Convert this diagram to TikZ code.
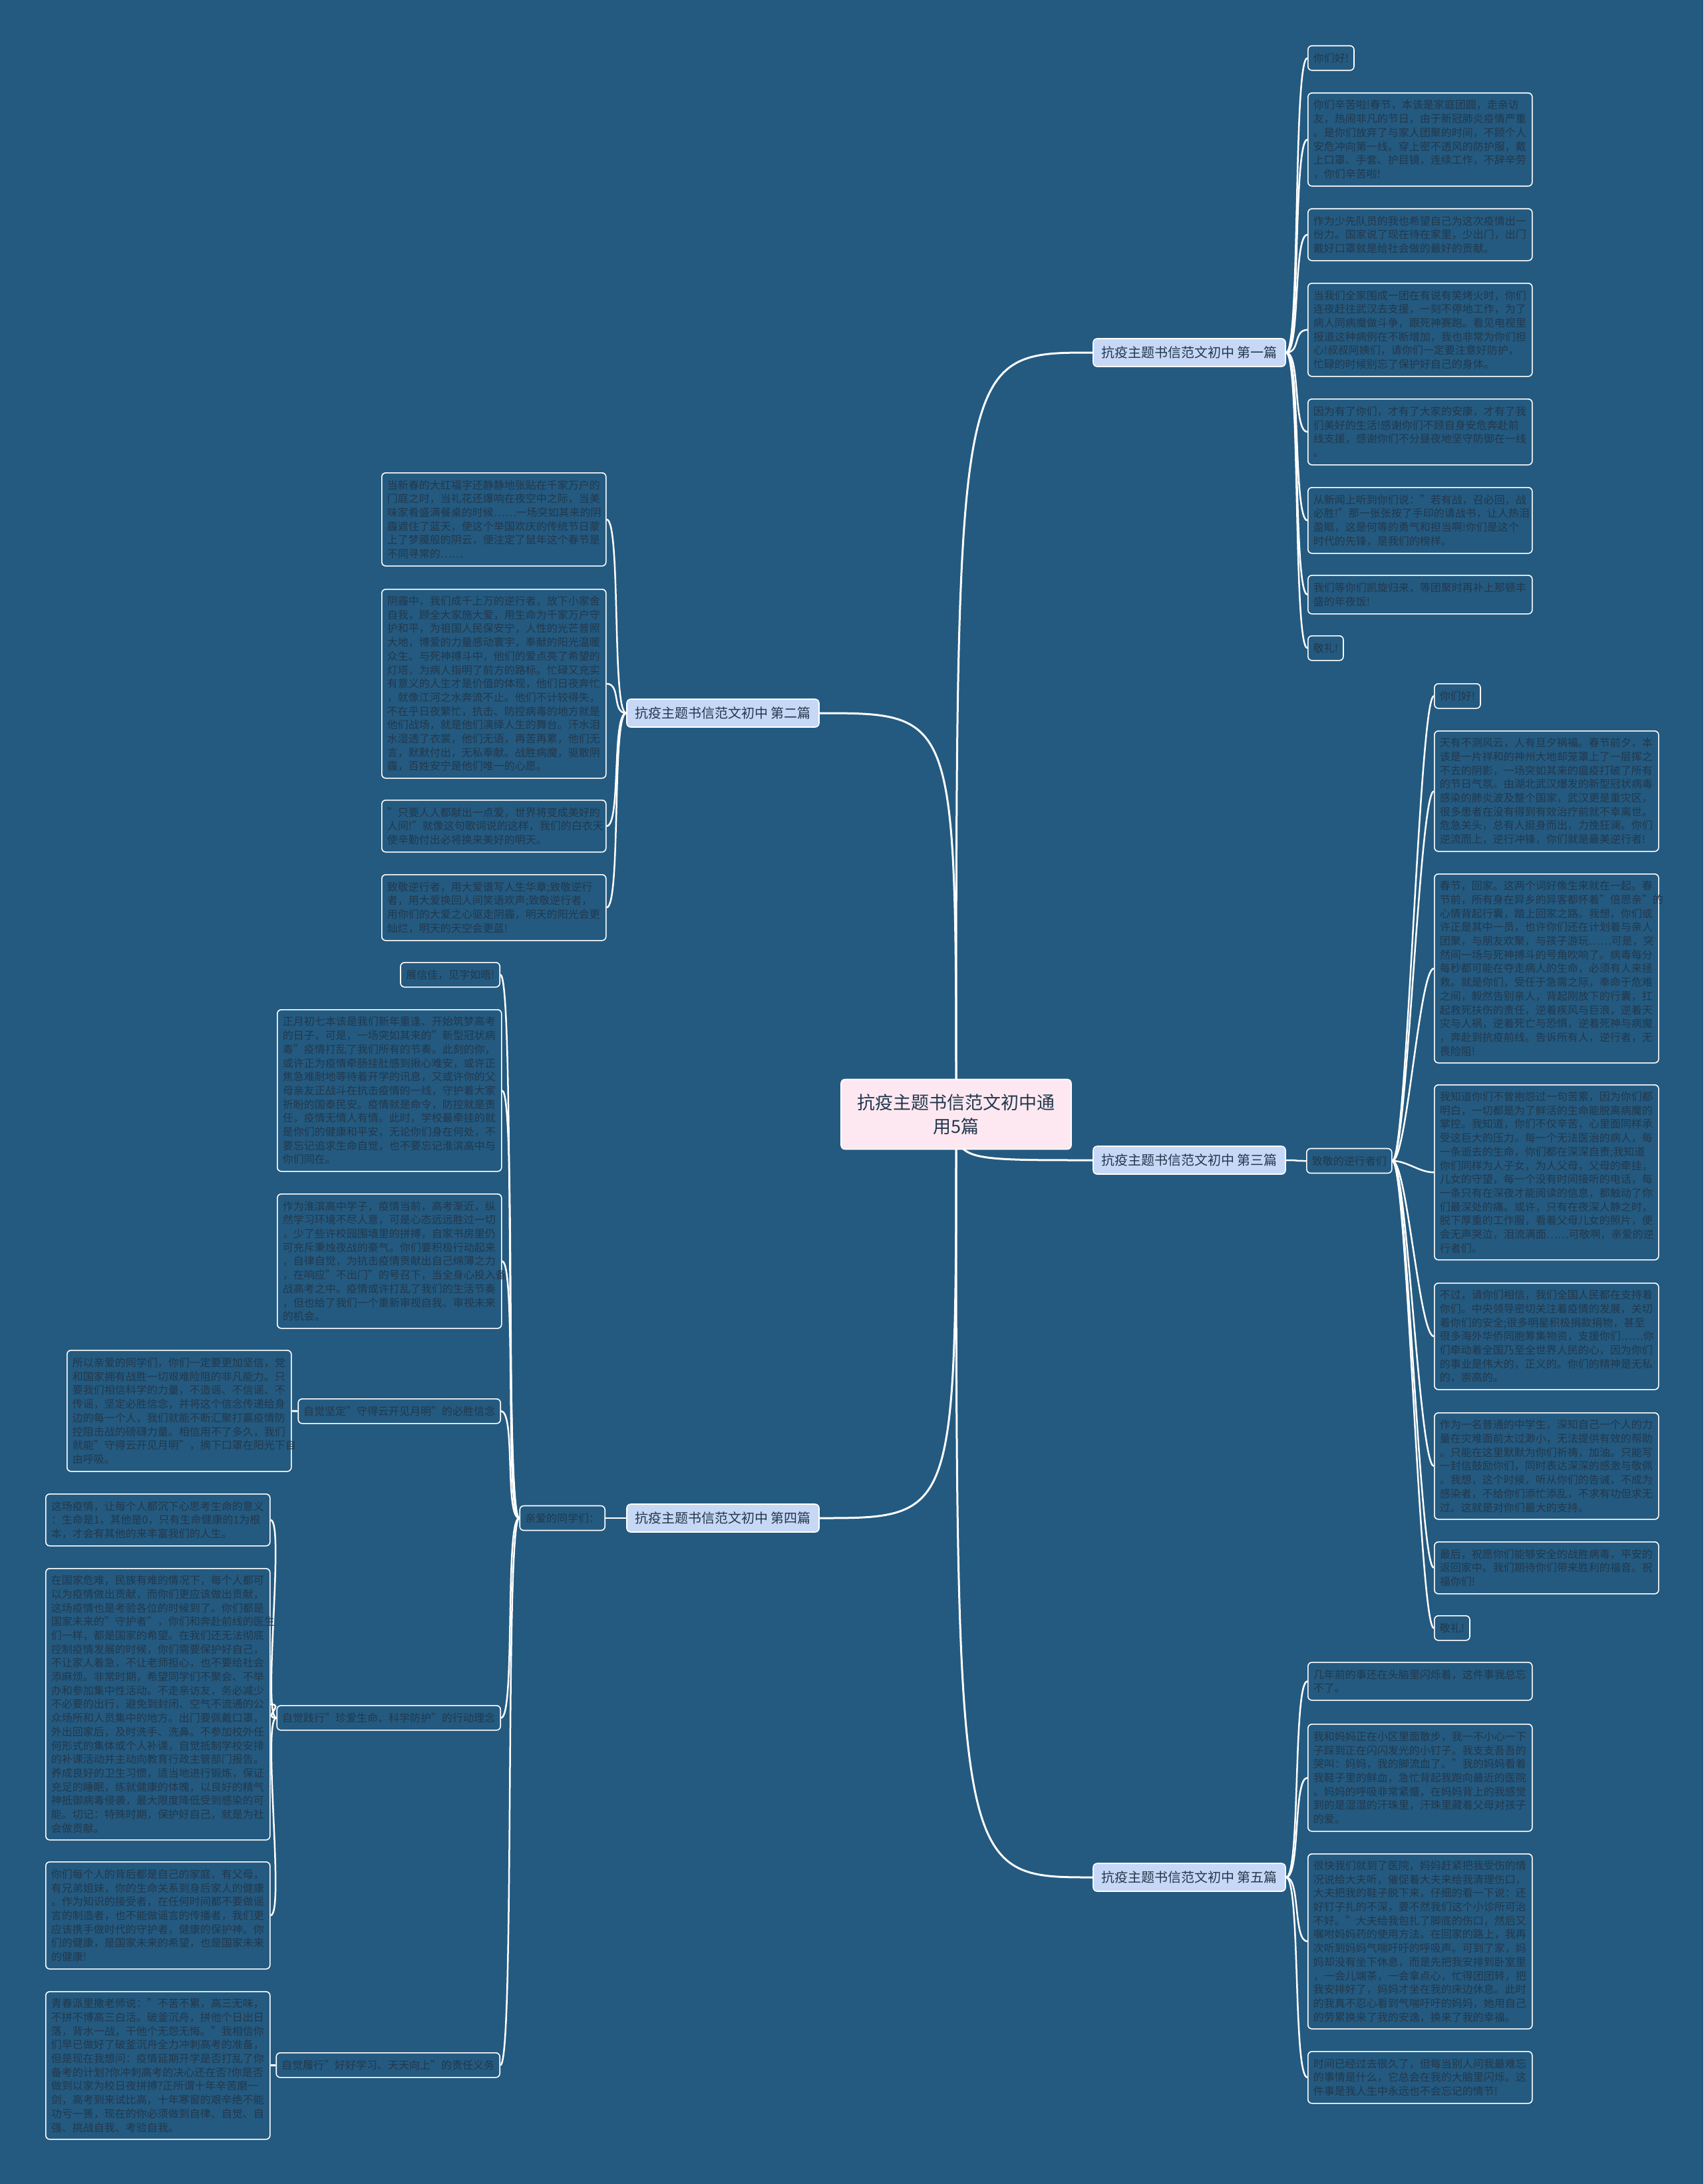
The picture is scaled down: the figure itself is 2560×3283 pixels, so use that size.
\documentclass[tikz,border=0pt]{standalone}
\usepackage{fontspec}
\setmainfont{Noto Sans CJK SC}
\definecolor{bg}{HTML}{245A80}
\definecolor{txt}{HTML}{22384C}
\definecolor{branchfill}{HTML}{C6D8F6}
\definecolor{centerfill}{HTML}{FDE8F1}
\pgfdeclarelayer{back}
\pgfdeclarelayer{edges}
\pgfsetlayers{back,edges,main}
\tikzset{
  box/.style={draw=white, line width=1.6pt, rounded corners=6pt, fill=bg, text=txt,
    align=left, inner xsep=8pt, inner ysep=0pt, font=\fontsize{16}{20.7}\selectfont},
  leafbox/.style={box, anchor=north west, text width=321pt, minimum width=337pt},
  tagbox/.style={box, minimum height=37pt},
  branchbox/.style={draw=white, line width=1.6pt, rounded corners=6pt, fill=branchfill,
    text=txt, font=\fontsize{20}{24}\selectfont, inner sep=0pt,
    minimum width=289pt, minimum height=42pt},
  rootbox/.style={draw=white, line width=1.6pt, rounded corners=6pt, fill=centerfill,
    text=txt, font=\fontsize{27}{36}\selectfont, align=center, inner sep=0pt,
    minimum width=346pt, minimum height=105pt},
  trunk/.style={draw=white, line width=3pt},
  twig/.style={draw=white, line width=2.5pt}
}
\newcommand\leaf[5]{\node[leafbox,minimum height=#4] (#1) at (#2,#3) {#5};}
\newcommand\rconn[2]{\draw[twig] (#1.east) .. controls +(22,0) and +(-22,0) .. (#2.west);}
\newcommand\lconn[2]{\draw[twig] (#1.west) .. controls +(-22,0) and +(22,0) .. (#2.east);}
\newcommand\rootconn[1]{\draw[trunk] (c.center) .. controls (c.center |- #1) and (c.center |- #1) .. (#1);}
\begin{document}
\begin{tikzpicture}[x=1pt,y=-1pt]
\begin{pgfonlayer}{back}
\fill[bg] (0,0) rectangle (2560,3283);
\end{pgfonlayer}
\useasboundingbox (0,0) rectangle (2560,3283);

% root and branches
\node[rootbox] (c) at (1437,1675) {抗疫主题书信范文初中通\\用5篇};
\node[branchbox] (b1) at (1787.5,530) {抗疫主题书信范文初中 第一篇};
\node[branchbox] (b2) at (1086.5,1072) {抗疫主题书信范文初中 第二篇};
\node[branchbox] (b3) at (1787.5,1744) {抗疫主题书信范文初中 第三篇};
\node[branchbox] (b4) at (1086.5,2282) {抗疫主题书信范文初中 第四篇};
\node[branchbox] (b5) at (1787.5,2822) {抗疫主题书信范文初中 第五篇};

% branch 1
\node[tagbox, anchor=north west] (l11) at (1965,68) {你们好!};
\leaf{l12}{1965}{139}{140}{你们辛苦啦!春节，本该是家庭团圆，走亲访\\友，热闹非凡的节日，由于新冠肺炎疫情严重\\。是你们放弃了与家人团聚的时间，不顾个人\\安危冲向第一线。穿上密不透风的防护服，戴\\上口罩、手套、护目镜，连续工作，不辞辛劳\\，你们辛苦啦!}
\leaf{l13}{1965}{313}{78}{作为少先队员的我也希望自己为这次疫情出一\\份力。国家说了现在待在家里，少出门，出门\\戴好口罩就是给社会做的最好的贡献。}
\leaf{l14}{1965}{425}{140}{当我们全家围成一团在有说有笑烤火时，你们\\连夜赶往武汉去支援，一刻不停地工作，为了\\病人同病魔做斗争，跟死神赛跑。看见电视里\\报道这种病例在不断增加，我也非常为你们担\\心!叔叔阿姨们，请你们一定要注意好防护，\\忙碌的时候别忘了保护好自己的身体。}
\leaf{l15}{1965}{599}{99}{因为有了你们，才有了大家的安康，才有了我\\们美好的生活!感谢你们不顾自身安危奔赴前\\线支援，感谢你们不分昼夜地坚守防御在一线\\。}
\leaf{l16}{1965}{732}{99}{从新闻上听到你们说："若有战，召必回，战\\必胜!"那一张张按了手印的请战书，让人热泪\\盈眶，这是何等的勇气和担当啊!你们是这个\\时代的先锋，是我们的榜样。}
\leaf{l17}{1965}{864}{58}{我们等你们凯旋归来，等团聚时再补上那顿丰\\盛的年夜饭!}
\node[tagbox, anchor=north west] (l18) at (1965,955) {敬礼!};

% branch 2
\leaf{l21}{573}{710}{140}{当新春的大红福字还静静地张贴在千家万户的\\门庭之时，当礼花还爆响在夜空中之际，当美\\味家肴盛满餐桌的时候……一场突如其来的阴\\霾遮住了蓝天，使这个举国欢庆的传统节日蒙\\上了梦魇般的阴云，便注定了鼠年这个春节是\\不同寻常的……}
\leaf{l22}{573}{885}{284}{阴霾中，我们成千上万的逆行者，放下小家舍\\自我，顾全大家施大爱，用生命为千家万户守\\护和平，为祖国人民保安宁，人性的光芒普照\\大地，博爱的力量感动寰宇，奉献的阳光温暖\\众生。与死神搏斗中，他们的爱点亮了希望的\\灯塔，为病人指明了前方的路标。忙碌又充实\\有意义的人生才是价值的体现，他们日夜奔忙\\，就像江河之水奔流不止。他们不计较得失，\\不在乎日夜繁忙，抗击、防控病毒的地方就是\\他们战场，就是他们演绎人生的舞台。汗水泪\\水湿透了衣裳，他们无语，再苦再累，他们无\\言，默默付出，无私奉献。战胜病魔，驱散阴\\霾，百姓安宁是他们唯一的心愿。}
\leaf{l23}{573}{1202}{78}{"只要人人都献出一点爱，世界将变成美好的\\人间!"就像这句歌词说的这样，我们的白衣天\\使辛勤付出必将换来美好的明天。}
\leaf{l24}{573}{1314}{99}{致敬逆行者，用大爱谱写人生华章;致敬逆行\\者，用大爱换回人间笑语欢声;致敬逆行者，\\用你们的大爱之心驱走阴霾，明天的阳光会更\\灿烂，明天的天空会更蓝!}

% branch 3
\node[tagbox, anchor=west] (t3) at (1963,1745) {致敬的逆行者们};
\node[tagbox, anchor=north west] (l31) at (2155,1027) {你们好!};
\leaf{l32}{2155}{1098}{181}{天有不测风云，人有旦夕祸福。春节前夕，本\\该是一片祥和的神州大地却笼罩上了一层挥之\\不去的阴影，一场突如其来的瘟疫打破了所有\\的节日气氛。由湖北武汉爆发的新型冠状病毒\\感染的肺炎波及整个国家，武汉更是重灾区，\\很多患者在没有得到有效治疗前就不幸离世。\\危急关头，总有人挺身而出，力挽狂澜。你们\\逆流而上，逆行冲锋，你们就是最美逆行者!}
\leaf{l33}{2155}{1313}{284}{春节，回家。这两个词好像生来就在一起。春\\节前，所有身在异乡的异客都怀着"倍思亲"的\\心情背起行囊，踏上回家之路。我想，你们或\\许正是其中一员，也许你们还在计划着与亲人\\团聚，与朋友欢聚，与孩子游玩……可是，突\\然间一场与死神搏斗的号角吹响了。病毒每分\\每秒都可能在夺走病人的生命，必须有人来拯\\救。就是你们，受任于急需之际，奉命于危难\\之间，毅然告别亲人，背起刚放下的行囊，扛\\起救死扶伤的责任，逆着疾风与巨浪，逆着天\\灾与人祸，逆着死亡与恐惧，逆着死神与病魔\\，奔赴到抗疫前线。告诉所有人，逆行者，无\\畏险阻!}
\leaf{l34}{2155}{1630}{263}{我知道你们不曾抱怨过一句苦累，因为你们都\\明白，一切都是为了鲜活的生命能脱离病魔的\\掌控。我知道，你们不仅辛苦，心里面同样承\\受这巨大的压力。每一个无法医治的病人，每\\一条逝去的生命，你们都在深深自责;我知道\\你们同样为人子女，为人父母，父母的牵挂，\\儿女的守望，每一个没有时间接听的电话，每\\一条只有在深夜才能阅读的信息，都触动了你\\们最深处的痛。或许，只有在夜深人静之时，\\脱下厚重的工作服，看着父母儿女的照片，便\\会无声哭泣，泪流满面……可敬啊，亲爱的逆\\行者们。}
\leaf{l35}{2155}{1928}{160}{不过，请你们相信，我们全国人民都在支持着\\你们。中央领导密切关注着疫情的发展，关切\\着你们的安全;很多明星积极捐款捐物，甚至\\很多海外华侨同胞筹集物资，支援你们……你\\们牵动着全国乃至全世界人民的心，因为你们\\的事业是伟大的，正义的。你们的精神是无私\\的，崇高的。}
\leaf{l36}{2155}{2123}{160}{作为一名普通的中学生，深知自己一个人的力\\量在灾难面前太过渺小，无法提供有效的帮助\\。只能在这里默默为你们祈祷，加油。只能写\\一封信鼓励你们，同时表达深深的感激与敬佩\\。我想，这个时候，听从你们的告诫，不成为\\感染者，不给你们添忙添乱，不求有功但求无\\过。这就是对你们最大的支持。}
\leaf{l37}{2155}{2317}{78}{最后，祝愿你们能够安全的战胜病毒，平安的\\返回家中。我们期待你们带来胜利的福音。祝\\福你们!}
\node[tagbox, anchor=north west] (l38) at (2155,2428) {敬礼!};

% branch 4
\node[tagbox, anchor=east] (t40) at (910,2282) {亲爱的同学们：};
\node[tagbox, anchor=north east] (l41) at (752,1446) {展信佳，见字如晤!};
\leaf{l42}{416}{1517}{243}{正月初七本该是我们新年重逢、开始筑梦高考\\的日子，可是，一场突如其来的"新型冠状病\\毒"疫情打乱了我们所有的节奏。此刻的你，\\或许正为疫情牵肠挂肚感到揪心难安，或许正\\焦急难耐地等待着开学的讯息，又或许你的父\\母亲友正战斗在抗击疫情的一线，守护着大家\\祈盼的国泰民安。疫情就是命令，防控就是责\\任，疫情无情人有情。此时，学校最牵挂的就\\是你们的健康和平安，无论你们身在何处，不\\要忘记追求生命自觉，也不要忘记淮滨高中与\\你们同在。}
\leaf{l43}{416}{1794}{202}{作为淮滨高中学子，疫情当前，高考渐近，纵\\然学习环境不尽人意，可是心态远远胜过一切\\，少了些许校园围墙里的拼搏，自家书房里仍\\可充斥秉烛夜战的豪气。你们要积极行动起来\\，自律自觉，为抗击疫情贡献出自己绵薄之力\\，在响应"不出门"的号召下，当全身心投入备\\战高考之中。疫情或许打乱了我们的生活节奏\\，但也给了我们一个重新审视自我、审视未来\\的机会。}
\node[tagbox, anchor=north east] (t41) at (753,2102) {自觉坚定"守得云开见月明"的必胜信念};
\leaf{l44}{100}{2029}{182}{所以亲爱的同学们，你们一定要更加坚信，党\\和国家拥有战胜一切艰难险阻的非凡能力。只\\要我们相信科学的力量，不造谣、不信谣、不\\传谣，坚定必胜信念，并将这个信念传递给身\\边的每一个人，我们就能不断汇聚打赢疫情防\\控阻击战的磅礴力量。相信用不了多久，我们\\就能"守得云开见月明"，摘下口罩在阳光下自\\由呼吸。}
\node[tagbox, anchor=north east] (t42) at (753,2563) {自觉践行"珍爱生命、科学防护"的行动理念};
\leaf{l45}{68}{2245}{78}{这场疫情，让每个人都沉下心思考生命的意义\\：生命是1，其他是0，只有生命健康的1为根\\本，才会有其他的来丰富我们的人生。}
\leaf{l46}{68}{2357}{408}{在国家危难，民族有难的情况下，每个人都可\\以为疫情做出贡献，而你们更应该做出贡献，\\这场疫情也是考验各位的时候到了。你们都是\\国家未来的"守护者"，你们和奔赴前线的医生\\们一样，都是国家的希望。在我们还无法彻底\\控制疫情发展的时候，你们需要保护好自己，\\不让家人着急，不让老师担心，也不要给社会\\添麻烦。非常时期，希望同学们不聚会、不举\\办和参加集中性活动。不走亲访友，务必减少\\不必要的出行，避免到封闭、空气不流通的公\\众场所和人员集中的地方。出门要佩戴口罩，\\外出回家后，及时洗手、洗鼻。不参加校外任\\何形式的集体或个人补课，自觉抵制学校安排\\的补课活动并主动向教育行政主管部门报告。\\养成良好的卫生习惯，适当地进行锻炼，保证\\充足的睡眠，练就健康的体魄，以良好的精气\\神抵御病毒侵袭，最大限度降低受到感染的可\\能。切记：特殊时期，保护好自己，就是为社\\会做贡献。}
\leaf{l47}{68}{2798}{161}{你们每个人的背后都是自己的家庭，有父母，\\有兄弟姐妹，你的生命关系到身后家人的健康\\。作为知识的接受者，在任何时间都不要做谣\\言的制造者，也不能做谣言的传播者，我们更\\应该携手做时代的守护者，健康的保护神。你\\们的健康，是国家未来的希望，也是国家未来\\的健康!}
\node[tagbox, anchor=north east] (t43) at (752,3085) {自觉履行"好好学习、天天向上"的责任义务};
\leaf{l48}{68}{2993}{222}{青春派里撒老师说："不苦不累，高三无味，\\不拼不博高三白活。破釜沉舟，拼他个日出日\\落，背水一战，干他个无怨无悔。"我相信你\\们早已做好了破釜沉舟全力冲刺高考的准备，\\但是现在我想问：疫情延期开学是否打乱了你\\备考的计划?你冲刺高考的决心还在否?你是否\\做到以家为校日夜拼搏?正所谓十年辛苦磨一\\剑，高考到来试比高，十年寒窗的艰辛绝不能\\功亏一篑，现在的你必须做到自律、自觉、自\\强、挑战自我、考验自我。}

% branch 5
\leaf{l51}{1965}{2498}{57}{几年前的事还在头脑里闪烁着，这件事我总忘\\不了。}
\leaf{l52}{1965}{2591}{161}{我和妈妈正在小区里面散步，我一不小心一下\\子踩到正在闪闪发光的小钉子。我支支吾吾的\\哭叫：妈妈，我的脚流血了。"我的妈妈看着\\我鞋子里的鲜血，急忙背起我跑向最近的医院\\。妈妈的呼吸非常紧蹙，在妈妈背上的我感觉\\到的是湿湿的汗珠里，汗珠里藏着父母对孩子\\的爱。}
\leaf{l53}{1965}{2786}{263}{很快我们就到了医院，妈妈赶紧把我受伤的情\\况说给大夫听，催促着大夫来给我清理伤口，\\大夫把我的鞋子脱下来，仔细的看一下说：还\\好钉子扎的不深，要不然我们这个小诊所可治\\不好。"大夫给我包扎了脚底的伤口，然后又\\嘱咐妈妈药的使用方法。在回家的路上，我再\\次听到妈妈气喘吁吁的呼吸声。可到了家，妈\\妈却没有坐下休息，而是先把我安排到卧室里\\，一会儿端茶，一会拿点心，忙得团团转，把\\我安排好了，妈妈才坐在我的床边休息。此时\\的我真不忍心看到气喘吁吁的妈妈，她用自己\\的劳累换来了我的安逸，换来了我的幸福。}
\leaf{l54}{1965}{3083}{78}{时间已经过去很久了，但每当别人问我最难忘\\的事情是什么，它总会在我的大脑里闪烁。这\\件事是我人生中永远也不会忘记的情节!}

% connectors
\begin{pgfonlayer}{edges}
\rootconn{b1.west}
\rootconn{b3.west}
\rootconn{b5.west}
\rootconn{b2.east}
\rootconn{b4.east}
\foreach \n in {l11,l12,l13,l14,l15,l16,l17,l18} {\rconn{b1}{\n}}
\foreach \n in {l21,l22,l23,l24} {\lconn{b2}{\n}}
\rconn{b3}{t3}
\foreach \n in {l31,l32,l33,l34,l35,l36,l37,l38} {\rconn{t3}{\n}}
\lconn{b4}{t40}
\foreach \n in {l41,l42,l43,t41,t42,t43} {\lconn{t40}{\n}}
\lconn{t41}{l44}
\foreach \n in {l45,l46,l47} {\lconn{t42}{\n}}
\lconn{t43}{l48}
\foreach \n in {l51,l52,l53,l54} {\rconn{b5}{\n}}
\end{pgfonlayer}
\end{tikzpicture}
\end{document}
